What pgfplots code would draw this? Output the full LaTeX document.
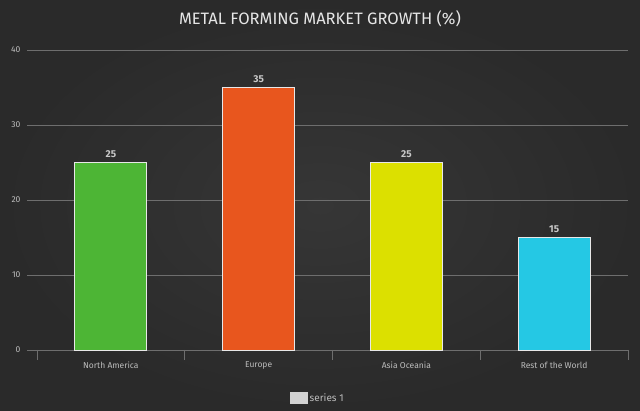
\documentclass[border=0pt]{standalone}
\usepackage{fontspec}
\setmainfont{Fira Sans}
\usepackage{pgfplots}
\pgfplotsset{compat=1.18}
\usetikzlibrary{backgrounds}
\definecolor{bgin}{HTML}{363636}
\definecolor{bgout}{HTML}{2A2A2A}
\definecolor{gridc}{HTML}{6E6E6E}
\definecolor{tickc}{HTML}{BDBDBD}
\definecolor{valc}{HTML}{C8C8C8}
\definecolor{titlec}{HTML}{E6E6E6}
\definecolor{legbox}{HTML}{D2D2D2}
\definecolor{cgreen}{HTML}{4DB535}
\definecolor{corange}{HTML}{E8561E}
\definecolor{cyellow}{HTML}{DCE000}
\definecolor{ccyan}{HTML}{25C8E4}
\definecolor{barline}{HTML}{E8E8E8}
\begin{document}
\begin{tikzpicture}
\begin{axis}[
  name=ax, scale only axis, width=591pt, height=300pt,
  xmin=-0.5, xmax=3.5, ymin=0, ymax=40,
  axis line style={draw=none}, tick style={draw=none},
  ytick={0,10,20,30,40}, xtick={0,1,2,3},
  xticklabels={North America, Europe, Asia Oceania, Rest of the World},
  yticklabel style={font=\fontsize{8.5}{9}\selectfont, text=tickc, xshift=-13pt},
  xticklabel style={font=\fontsize{8.5}{10}\selectfont, text=tickc, yshift=-4pt},
  /pgf/number format/assume math mode=true,
  ybar, bar width=72pt, bar shift=0pt,
  nodes near coords,
  nodes near coords style={font=\bfseries\fontsize{10}{11}\selectfont, text=valc, yshift=1pt},
  every axis plot/.append style={draw=barline, line width=0.9pt},
  legend style={at={(0.475,-0.16)}, anchor=center, draw=none, fill=none,
    text=tickc, font=\fontsize{10}{11}\selectfont},
  clip=false,
]
\pgfplotsinvokeforeach{0,10,20,30,40}{
  \draw[gridc, line width=0.8pt] ([xshift=-10pt]axis cs:-0.5,#1) -- (axis cs:3.5,#1);
}
\pgfplotsinvokeforeach{-0.5,0.5,1.5,2.5,3.5}{
  \draw[gridc, line width=0.8pt] (axis cs:#1,0) -- ([yshift=-10pt]axis cs:#1,0);
}
\addplot[fill=cgreen, forget plot] coordinates {(0,25)};
\addplot[fill=corange, forget plot] coordinates {(1,35)};
\addplot[fill=cyellow, forget plot] coordinates {(2,25)};
\addplot[fill=ccyan, forget plot] coordinates {(3,15)};
\addlegendimage{legend image code/.code={\fill[legbox] (-6pt,-5.5pt) rectangle (11pt,5.5pt);}}
\addlegendentry{series 1}
\end{axis}
\node[font=\fontsize{16.5}{18}\selectfont, text=titlec] at ([xshift=-12.5pt, yshift=31pt]ax.north) {METAL FORMING MARKET GROWTH (\%)};
\begin{scope}[on background layer]
\shade[inner color=bgin, outer color=bgout] ([xshift=-37pt,yshift=-61pt]ax.south west) rectangle ([xshift=12pt,yshift=50pt]ax.north east);
\end{scope}
\end{tikzpicture}
\end{document}
